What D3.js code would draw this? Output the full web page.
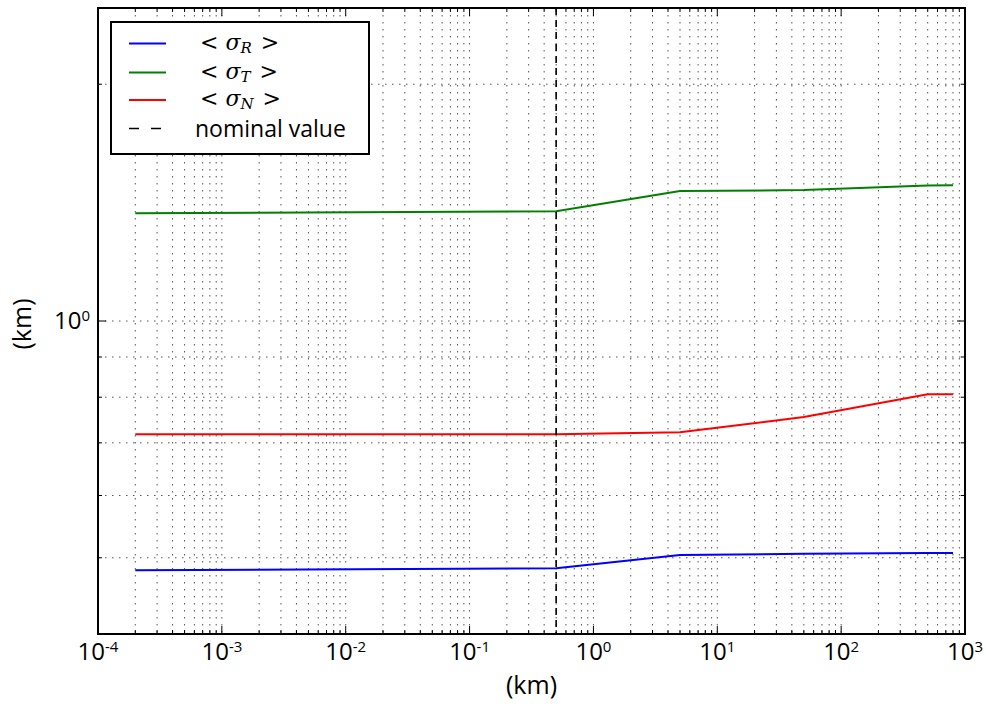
<!DOCTYPE html>
<html>
<head>
<meta charset="utf-8">
<script src="https://cdn.jsdelivr.net/npm/d3@7"></script>
<style>
  html, body { margin: 0; padding: 0; background: #fff; }
  svg { display: block; }
  .tick-label { font-family: "Open Sans", "DejaVu Sans", sans-serif; font-size: 24px; fill: #000; }
  .axis-title { font-family: "Open Sans", "DejaVu Sans", sans-serif; font-size: 25px; fill: #000; }
  .legend-text { font-family: "Open Sans", "DejaVu Sans", sans-serif; font-size: 23px; fill: #000; }
  .math { font-family: "DejaVu Serif", "Liberation Serif", serif; font-size: 22px; fill: #000; }
</style>
</head>
<body>
<div id="chart"></div>
<script>
// distances in km
const xValues = [2e-4, 0.5, 5, 50, 500, 800];
const sigmaR = [0.482, 0.485, 0.504, 0.506, 0.507, 0.507];
const sigmaT = [1.371, 1.379, 1.463, 1.467, 1.487, 1.488];
const sigmaN = [0.718, 0.718, 0.722, 0.755, 0.807, 0.807];
const nominalValue = 0.5;

const xDomain = [1e-4, 1e3];
const yDomain = [0.4, 2.5];
const xMajorTicks = [1e-4, 1e-3, 1e-2, 1e-1, 1e0, 1e1, 1e2, 1e3];
const xTickExponents = ["-4", "-3", "-2", "-1", "0", "1", "2", "3"];
const yMajorTicks = [1];
const yTickExponents = ["0"];

const series = [
    { name: "R", values: sigmaR, color: "#0000ff" },
    { name: "T", values: sigmaT, color: "#008000" },
    { name: "N", values: sigmaN, color: "#ff0000" }
];

const W = 986, H = 706;
const margin = { top: 8, right: 21, bottom: 72, left: 98 };
const width = W - margin.left - margin.right;
const height = H - margin.top - margin.bottom;

const svg = d3.select("#chart").append("svg")
    .attr("width", W)
    .attr("height", H);

const g = svg.append("g")
    .attr("transform", `translate(${margin.left},${margin.top})`);

const x = d3.scaleLog().domain(xDomain).range([0, width]);
const y = d3.scaleLog().domain(yDomain).range([height, 0]);

const xAll = x.ticks();
const yAll = y.ticks().filter(v => v > yDomain[0] + 1e-9 && v < yDomain[1]);
const isMajorX = v => xMajorTicks.some(m => Math.abs(m - v) / m < 1e-6);
const isMajorY = v => yMajorTicks.some(m => Math.abs(m - v) / m < 1e-6);

// grid (dotted, both major and minor)
const grid = g.append("g").attr("stroke", "#555").attr("stroke-width", 1)
    .attr("stroke-dasharray", "1.5,5.5");
xAll.filter(v => v > xDomain[0] && v < xDomain[1]).forEach(v => {
    grid.append("line").attr("x1", x(v)).attr("x2", x(v)).attr("y1", 0).attr("y2", height);
});
yAll.forEach(v => {
    grid.append("line").attr("x1", 0).attr("x2", width).attr("y1", y(v)).attr("y2", y(v));
});

// ticks on all sides, pointing inward
const ticks = g.append("g").attr("stroke", "#000").attr("stroke-width", 1);
xAll.forEach(v => {
    const len = isMajorX(v) ? 8 : 4;
    ticks.append("line").attr("x1", x(v)).attr("x2", x(v)).attr("y1", height).attr("y2", height - len);
    ticks.append("line").attr("x1", x(v)).attr("x2", x(v)).attr("y1", 0).attr("y2", len);
});
yAll.forEach(v => {
    const len = isMajorY(v) ? 8 : 4;
    ticks.append("line").attr("x1", 0).attr("x2", len).attr("y1", y(v)).attr("y2", y(v));
    ticks.append("line").attr("x1", width).attr("x2", width - len).attr("y1", y(v)).attr("y2", y(v));
});

// series lines
const line = d3.line()
    .x(d => x(d[0]))
    .y(d => y(d[1]));

series.forEach(s => {
    g.append("path")
        .datum(xValues.map((xv, i) => [xv, s.values[i]]))
        .attr("fill", "none")
        .attr("stroke", s.color)
        .attr("stroke-width", 2)
        .attr("d", line);
});

// nominal value
g.append("line")
    .attr("x1", x(nominalValue)).attr("x2", x(nominalValue))
    .attr("y1", 0).attr("y2", height)
    .attr("stroke", "#000")
    .attr("stroke-width", 1.6)
    .attr("stroke-dasharray", "7,5");

// frame
g.append("rect")
    .attr("width", width).attr("height", height)
    .attr("fill", "none").attr("stroke", "#000").attr("stroke-width", 2);

// tick labels
function powerLabel(sel, exp) {
    sel.append("tspan").text("10");
    sel.append("tspan").attr("dy", -8).attr("font-size", 15).text(exp);
}

xMajorTicks.forEach((v, i) => {
    const t = g.append("text").attr("class", "tick-label")
        .attr("x", x(v)).attr("y", height + 26)
        .attr("text-anchor", "middle");
    powerLabel(t, xTickExponents[i]);
});
yMajorTicks.forEach((v, i) => {
    const t = g.append("text").attr("class", "tick-label")
        .attr("x", -8).attr("y", y(v) + 8)
        .attr("text-anchor", "end");
    powerLabel(t, yTickExponents[i]);
});

// axis titles
svg.append("text").attr("class", "axis-title")
    .attr("x", margin.left + width / 2).attr("y", 694)
    .attr("text-anchor", "middle").text("(km)");
svg.append("text").attr("class", "axis-title")
    .attr("transform", `translate(31,${margin.top + y(1) + 3}) rotate(-90)`)
    .attr("text-anchor", "middle").text("(km)");

// legend
const legend = svg.append("g").attr("transform", "translate(111,22)");
legend.append("rect")
    .attr("width", 258).attr("height", 132)
    .attr("fill", "#fff").attr("stroke", "#000").attr("stroke-width", 2);

const rowY = [21.5, 50.5, 78, 106.5];
series.forEach((s, i) => {
    legend.append("line")
        .attr("x1", 18).attr("x2", 55).attr("y1", rowY[i]).attr("y2", rowY[i])
        .attr("stroke", s.color).attr("stroke-width", 2);
    const t = legend.append("text").attr("class", "math")
        .attr("x", 89).attr("y", rowY[i] + 6);
    t.append("tspan").text("<");
    t.append("tspan").attr("dx", 7).attr("font-style", "italic").text("σ");
    t.append("tspan").attr("dy", 3).attr("font-size", 15).attr("font-style", "italic").text(s.name);
    t.append("tspan").attr("dy", -3).attr("dx", 9).text(">");
});
legend.append("line")
    .attr("x1", 18).attr("x2", 55).attr("y1", rowY[3]).attr("y2", rowY[3])
    .attr("stroke", "#000").attr("stroke-width", 1.6).attr("stroke-dasharray", "10,12");
legend.append("text").attr("class", "legend-text")
    .attr("x", 84).attr("y", rowY[3] + 8).text("nominal value");
</script>
</body>
</html>
